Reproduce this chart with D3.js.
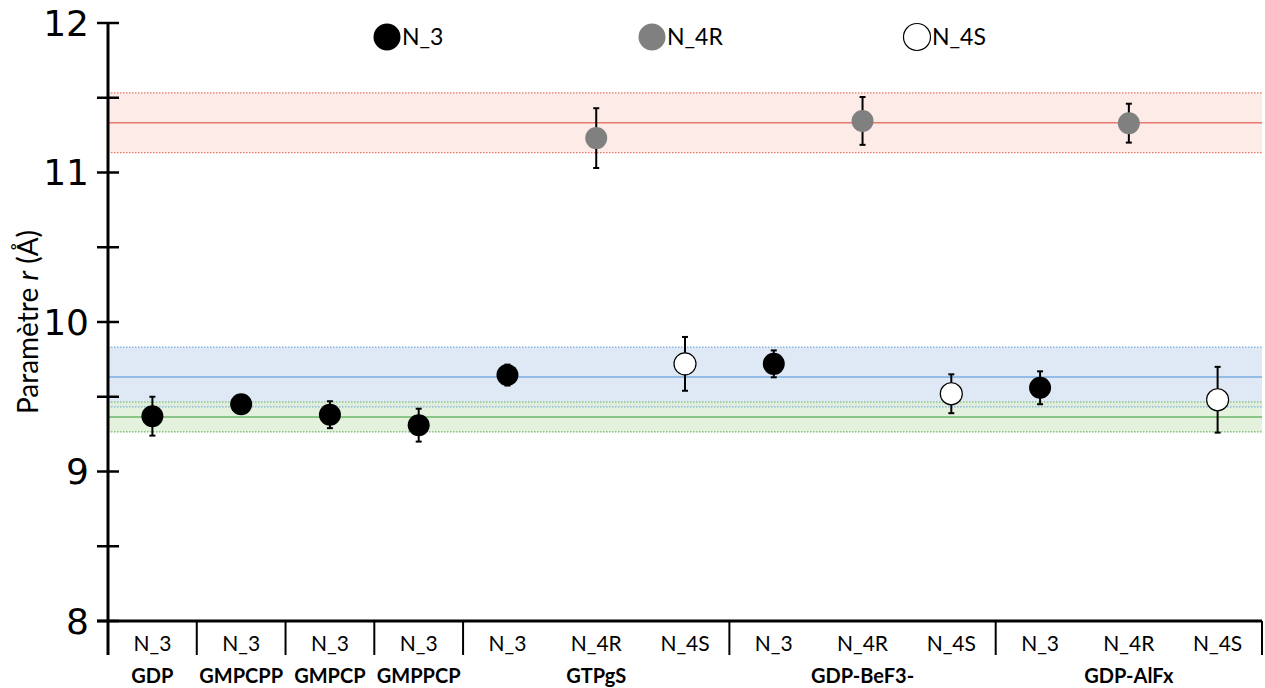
<!DOCTYPE html>
<meta charset="utf-8">
<style>
body { margin: 0; background: #fff; }
text { font-family: Lato, "Open Sans", sans-serif; }
</style>
<svg width="1265" height="688"></svg>
<script src="https://d3js.org/d3.v7.min.js"></script>
<script>

var categories = ["N_3", "N_3", "N_3", "N_3", "N_3", "N_4R", "N_4S", "N_3", "N_4R", "N_4S", "N_3", "N_4R", "N_4S"];
var groups = [
  {name: "GDP", from: 0, to: 0},
  {name: "GMPCPP", from: 1, to: 1},
  {name: "GMPCP", from: 2, to: 2},
  {name: "GMPPCP", from: 3, to: 3},
  {name: "GTPgS", from: 4, to: 6},
  {name: "GDP-BeF3-", from: 7, to: 9},
  {name: "GDP-AlFx", from: 10, to: 12}
];
var values = [9.37, 9.45, 9.38, 9.31, 9.645, 11.23, 9.72, 9.72, 11.345, 9.52, 9.56, 11.33, 9.48];
var errors = [0.13, 0.06, 0.09, 0.11, 0.07, 0.2, 0.18, 0.09, 0.16, 0.13, 0.11, 0.13, 0.22];
var yTicks = [8, 9, 10, 11, 12];
var bands = [
  {mean: 11.333, sd: 0.2, fill: "#fde7e3", line: "#e8786c"},
  {mean: 9.632, sd: 0.2, fill: "#d8e5f3", line: "#7aaee0"},
  {mean: 9.365, sd: 0.1, fill: "#dfeed6", line: "#6cb46a"}
];
var legendItems = [
  {label: "N_3", fill: "#000"},
  {label: "N_4R", fill: "#808080"},
  {label: "N_4S", fill: "#fff"}
];

var fillFor = {"N_3": "#000", "N_4R": "#808080", "N_4S": "#fff"};

var svg = d3.select("svg");
var mLeft = 108, mRight = 1262, mTop = 23, mBottom = 621;

var x = d3.scaleBand().domain(d3.range(categories.length)).range([mLeft, mRight]);
var y = d3.scaleLinear().domain([8, 12]).range([mBottom, mTop]);

// bands
var bg = svg.append("g");
bands.forEach(function(b) {
  bg.append("rect")
      .attr("x", mLeft).attr("width", mRight - mLeft)
      .attr("y", y(b.mean + b.sd)).attr("height", y(b.mean - b.sd) - y(b.mean + b.sd))
      .attr("fill", b.fill).attr("fill-opacity", 0.85);
});
bands.forEach(function(b) {
  [b.mean + b.sd, b.mean - b.sd].forEach(function(v) {
    bg.append("line")
        .attr("x1", mLeft).attr("x2", mRight)
        .attr("y1", y(v)).attr("y2", y(v))
        .attr("stroke", b.line).attr("stroke-width", 1.2)
        .attr("stroke-dasharray", "1.5,1.5");
  });
  bg.append("line")
      .attr("x1", mLeft).attr("x2", mRight)
      .attr("y1", y(b.mean)).attr("y2", y(b.mean))
      .attr("stroke", b.line).attr("stroke-width", 1.5);
});

// y axis
var yAxis = svg.append("g");
yAxis.append("line")
    .attr("x1", mLeft).attr("x2", mLeft)
    .attr("y1", mTop).attr("y2", 655)
    .attr("stroke", "#000").attr("stroke-width", 3);
d3.range(8, 12.01, 0.5).forEach(function(v) {
  yAxis.append("line")
      .attr("x1", mLeft - 11).attr("x2", mLeft + 11)
      .attr("y1", y(v)).attr("y2", y(v))
      .attr("stroke", "#000").attr("stroke-width", 2.5);
});
yAxis.selectAll("text").data(yTicks).enter().append("text")
    .attr("x", 89).attr("y", function(d) { return y(d); })
    .attr("dy", "0.36em")
    .attr("text-anchor", "end")
    .style("font-family", "'DejaVu Sans', sans-serif")
    .style("font-size", "36px")
    .text(function(d) { return d; });

svg.append("text")
    .attr("transform", "translate(38," + y(10) + ") rotate(-90)")
    .attr("text-anchor", "middle")
    .style("font-size", "28px")
    .html('Paramètre <tspan font-style="italic">r</tspan> (Å)');

// x axis
var xAxis = svg.append("g");
xAxis.append("line")
    .attr("x1", mLeft - 11).attr("x2", mRight)
    .attr("y1", mBottom).attr("y2", mBottom)
    .attr("stroke", "#000").attr("stroke-width", 3);
var seps = [mLeft].concat(groups.map(function(g) { return x(g.to) + x.bandwidth(); }));
xAxis.selectAll(".sep").data(seps).enter().append("line")
    .attr("x1", function(d) { return d; }).attr("x2", function(d) { return d; })
    .attr("y1", mBottom).attr("y2", 655)
    .attr("stroke", "#000").attr("stroke-width", 2);
xAxis.selectAll(".cat").data(categories).enter().append("text")
    .attr("x", function(d, i) { return x(i) + x.bandwidth() / 2; })
    .attr("y", 651)
    .attr("text-anchor", "middle")
    .style("font-size", "21px")
    .text(function(d) { return d; });
xAxis.selectAll(".grp").data(groups).enter().append("text")
    .attr("x", function(g) { return (x(g.from) + x(g.to) + x.bandwidth()) / 2; })
    .attr("y", 683)
    .attr("text-anchor", "middle")
    .style("font-size", "20px")
    .style("font-weight", "bold")
    .text(function(g) { return g.name; });

// error bars + points
var pts = svg.append("g").selectAll("g").data(values).enter().append("g")
    .attr("transform", function(d, i) { return "translate(" + (x(i) + x.bandwidth() / 2) + ",0)"; });
pts.append("line")
    .attr("y1", function(d, i) { return y(d + errors[i]); })
    .attr("y2", function(d, i) { return y(d - errors[i]); })
    .attr("stroke", "#000").attr("stroke-width", 2);
pts.append("line")
    .attr("x1", -3).attr("x2", 3)
    .attr("y1", function(d, i) { return y(d + errors[i]); })
    .attr("y2", function(d, i) { return y(d + errors[i]); })
    .attr("stroke", "#000").attr("stroke-width", 2);
pts.append("line")
    .attr("x1", -3).attr("x2", 3)
    .attr("y1", function(d, i) { return y(d - errors[i]); })
    .attr("y2", function(d, i) { return y(d - errors[i]); })
    .attr("stroke", "#000").attr("stroke-width", 2);
pts.append("circle")
    .attr("cy", function(d) { return y(d); })
    .attr("r", 11)
    .attr("fill", function(d, i) { return fillFor[categories[i]]; })
    .attr("stroke", function(d, i) { return categories[i] === "N_4S" ? "#000" : "none"; })
    .attr("stroke-width", 1.2);

// legend
var lx = d3.scalePoint().domain(legendItems.map(function(d) { return d.label; })).range([387, 917]);
var leg = svg.append("g").selectAll("g").data(legendItems).enter().append("g")
    .attr("transform", function(d) { return "translate(" + lx(d.label) + ",37)"; });
leg.append("circle")
    .attr("r", 13.5)
    .attr("fill", function(d) { return d.fill; })
    .attr("stroke", function(d) { return d.fill === "#fff" ? "#000" : "none"; })
    .attr("stroke-width", 1.2);
leg.append("text")
    .attr("x", 15).attr("dy", "0.36em")
    .style("font-size", "23px")
    .text(function(d) { return d.label; });

</script>
